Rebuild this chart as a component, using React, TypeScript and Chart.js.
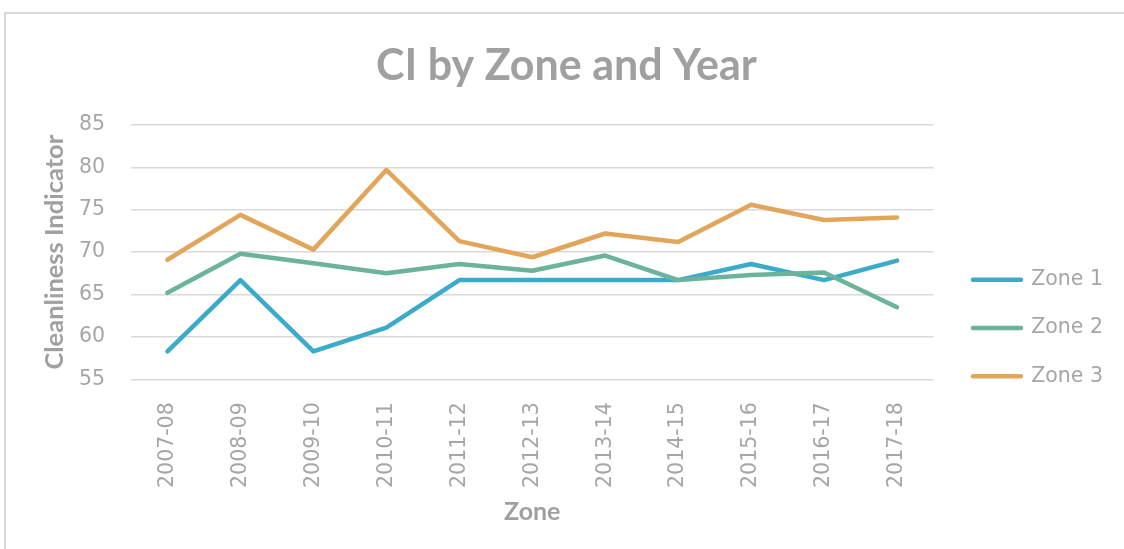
import React, { useEffect, useRef } from 'react';
import { Chart, registerables } from 'chart.js';

Chart.register(...registerables);

// ---- data ----
const years = ['2007-08', '2008-09', '2009-10', '2010-11', '2011-12', '2012-13', '2013-14', '2014-15', '2015-16', '2016-17', '2017-18'];
const zone1 = [58.3, 66.7, 58.3, 61.1, 66.7, 66.7, 66.7, 66.7, 68.6, 66.7, 69.0];
const zone2 = [65.2, 69.8, 68.7, 67.5, 68.6, 67.8, 69.6, 66.7, 67.3, 67.6, 63.5];
const zone3 = [69.1, 74.4, 70.3, 79.7, 71.3, 69.4, 72.2, 71.2, 75.6, 73.8, 74.1];
const seriesNames = ['Zone 1', 'Zone 2', 'Zone 3'];
const seriesColors = ['#3aacca', '#6bb39a', '#e2a65a'];
const yMin = 55;
const yMax = 85;
const yStep = 5;
const chartTitle = 'CI by Zone and Year';
const yTitle = 'Cleanliness Indicator';
const xTitle = 'Zone';

const TITLE_COLOR = '#a0a0a0';
const TICK_COLOR = '#a6a6a6';
const GRID_COLOR = '#d9d9d9';
const TICK_FAMILY = "'DejaVu Sans', sans-serif";
const BOLD_FAMILY = 'Lato';

const LEGEND_LEFT = 945.2;
const CANVAS_W = 1133;

export default function App() {
  const ref = useRef<HTMLCanvasElement | null>(null);

  useEffect(() => {
    const canvas = ref.current;
    if (!canvas) return;
    const values = [zone1, zone2, zone3];
    const chart = new Chart(canvas, {
      type: 'line',
      data: {
        labels: years,
        datasets: seriesNames.map((name, i) => ({
          label: name,
          data: values[i],
          borderColor: seriesColors[i],
          backgroundColor: seriesColors[i],
          borderWidth: 4.5,
          borderCapStyle: 'round',
          borderJoinStyle: 'round',
          pointRadius: 0,
          pointHoverRadius: 0,
          tension: 0,
          fill: false,
          order: seriesNames.length - i,
          xAxisID: 'x',
          yAxisID: 'y',
        })),
      },
      options: {
        responsive: false,
        animation: false,
        events: [],
        layout: { padding: 0 },
        scales: {
          x: {
            type: 'category',
            offset: true,
            grid: { display: false },
            border: { display: false },
            ticks: {
              autoSkip: false,
              minRotation: 90,
              maxRotation: 90,
              padding: 15,
              color: TICK_COLOR,
              font: { family: TICK_FAMILY, size: 20.5 },
            },
            title: {
              display: true,
              text: xTitle,
              color: TITLE_COLOR,
              font: { family: BOLD_FAMILY, weight: 'bold', size: 25 },
              padding: { top: 10, bottom: 22.5 },
            },
            afterFit: (s: any) => { s.height = 169.7; },
          },
          y: {
            type: 'linear',
            position: 'left',
            min: yMin,
            max: yMax,
            grid: { color: GRID_COLOR, lineWidth: 1.5, drawTicks: false },
            border: { display: false },
            ticks: {
              stepSize: yStep,
              padding: 26,
              color: TICK_COLOR,
              font: { family: TICK_FAMILY, size: 20.5 },
            },
            title: {
              display: true,
              text: yTitle,
              color: TITLE_COLOR,
              font: { family: BOLD_FAMILY, weight: 'bold', size: 25.5 },
              padding: { top: 39.7, bottom: 0 },
            },
            afterFit: (s: any) => { s.width = 131; },
          },
          gapR: {
            type: 'linear',
            position: 'right',
            display: true,
            grid: { display: false },
            border: { display: false },
            ticks: { display: false },
            afterFit: (s: any) => { s.width = 11.7; },
          },
          spacerR: {
            type: 'linear',
            position: 'right',
            weight: 2000,
            display: true,
            grid: { display: false },
            border: { display: false },
            ticks: { display: false },
            afterFit: (s: any) => {
              const lw = s.chart.legend ? s.chart.legend.width : 0;
              s.width = Math.max(0, CANVAS_W - LEGEND_LEFT - lw);
            },
          },
        },
        plugins: {
          tooltip: { enabled: false },
          title: {
            display: true,
            text: chartTitle,
            color: TITLE_COLOR,
            font: { family: BOLD_FAMILY, weight: 'bold', size: 43 },
            padding: { top: 40, bottom: 33.4 },
          },
          legend: {
            display: true,
            position: 'right',
            maxWidth: 400,
            title: {
              display: true,
              text: ' ',
              color: 'rgba(0,0,0,0)',
              font: { size: 10 },
              padding: { top: 95, bottom: 0 },
            },
            labels: {
              boxWidth: 48,
              boxHeight: 0,
              padding: 27.8,
              color: TICK_COLOR,
              font: { family: TICK_FAMILY, size: 20.5 },
              sort: (a: any, b: any) => a.datasetIndex - b.datasetIndex,
            },
          },
        },
      },
    } as any);
    return () => chart.destroy();
  }, []);

  return (
    <div style={{ position: 'absolute', left: 0, top: 0, width: 1124, height: 549, overflow: 'hidden', background: '#ffffff' }}>
      <div
        style={{
          position: 'absolute',
          left: 4,
          top: 12,
          width: 1200,
          height: 600,
          borderTop: '2px solid #d9d9d9',
          borderLeft: '2px solid #d9d9d9',
          boxSizing: 'border-box',
        }}
      />
      <canvas ref={ref} width={CANVAS_W} height={549} style={{ position: 'absolute', left: 0, top: 0, display: 'block' }} />
    </div>
  );
}
